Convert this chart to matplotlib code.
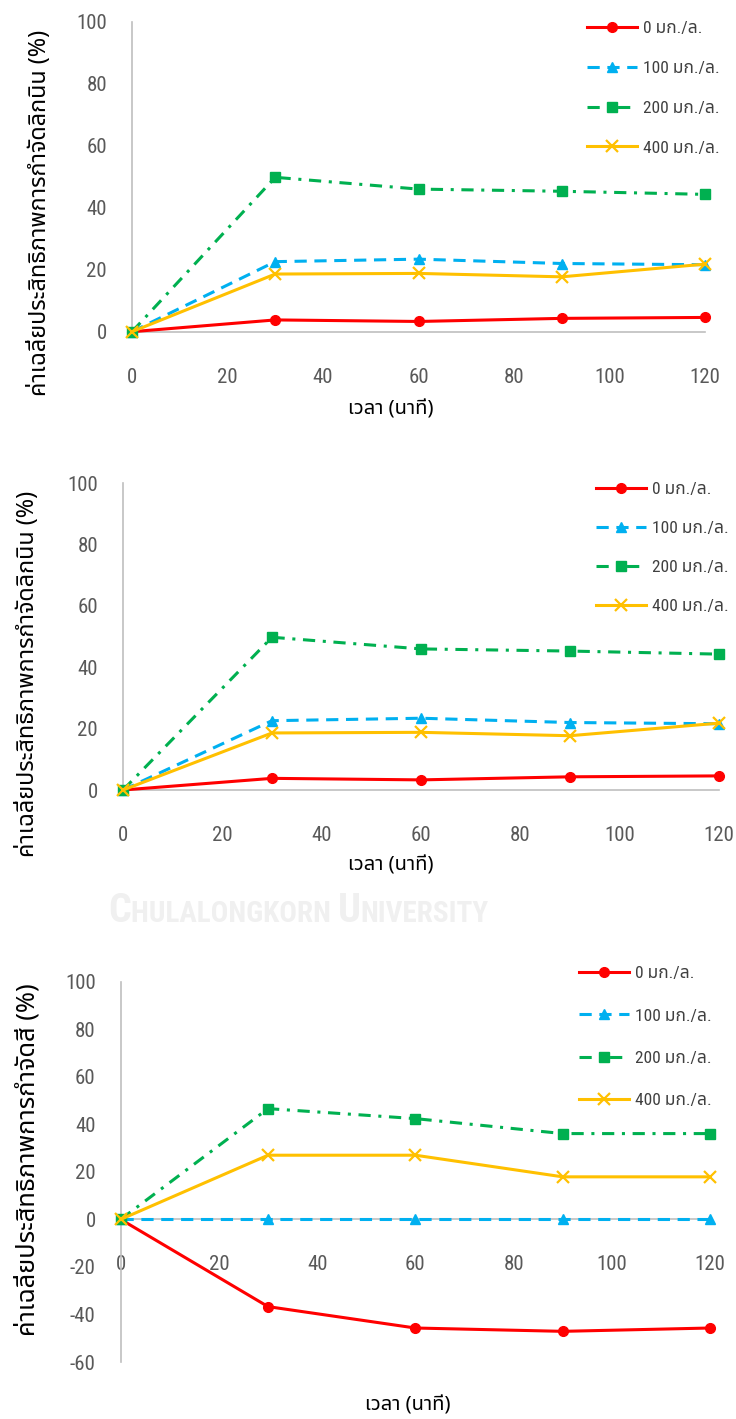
import matplotlib
matplotlib.use("Agg")
import matplotlib.pyplot as plt
from matplotlib import font_manager
from matplotlib.ft2font import FT2Font
from matplotlib.offsetbox import TextArea, HPacker, AnchoredOffsetbox

plt.rcParams["axes.unicode_minus"] = False

# ---- data -------------------------------------------------------------
time_min = [0, 30, 60, 90, 120]
series_labels = ["0 มก./ล.", "100 มก./ล.", "200 มก./ล.", "400 มก./ล."]

lignin_0 = [0, 3.8, 3.3, 4.3, 4.6]
lignin_100 = [0, 22.6, 23.4, 22.0, 21.6]
lignin_200 = [0, 49.8, 46.0, 45.3, 44.3]
lignin_400 = [0, 18.6, 18.8, 17.7, 21.8]

colour_0 = [0, -36.7, -45.7, -47.1, -45.7]
colour_100 = [0, 0, 0, 0, 0]
colour_200 = [0, 46.6, 42.4, 36.1, 36.1]
colour_400 = [0, 27.0, 27.0, 17.9, 17.9]

x_ticks = [0, 20, 40, 60, 80, 100, 120]
y_ticks_lignin = [0, 20, 40, 60, 80, 100]
y_ticks_colour = [-60, -40, -20, 0, 20, 40, 60, 80, 100]

x_title = "เวลา (นาที)"
y_title_lignin = "ค่าเฉลี่ยประสิทธิภาพการกำจัดลิกนิน (%)"
y_title_colour = "ค่าเฉลี่ยประสิทธิภาพการกำจัดสี (%)"
watermark_parts = [("C", True), ("HULALONGKORN ", False), ("U", True), ("NIVERSITY", False)]


# ---- fonts ------------------------------------------------------------
def families_with(char):
    found = []
    for f in font_manager.fontManager.ttflist:
        if "CJK" in f.name:
            continue
        try:
            cmap = FT2Font(f.fname).get_charmap()
        except Exception:
            continue
        if ord(char) in cmap and f.name not in found:
            found.append(f.name)
    return found


thai_fams = families_with("ก")
thai_font = None
for pref in ["Noto Sans Thai", "Noto Sans Thai UI", "Loma", "Garuda", "Sarabun",
             "Tlwg Typo", "Norasi", "Kinnari"]:
    if pref in thai_fams:
        thai_font = pref
        break
if thai_font is None:
    thai_font = thai_fams[0] if thai_fams else "DejaVu Sans"

# a condensed face for the numbers, as narrow as the installed fonts allow
narrow_family, narrow_stretch = "Liberation Sans", "normal"
_cands = []
for f in font_manager.fontManager.ttflist:
    st = f.stretch
    is_narrow = ("Narrow" in f.name or "Condensed" in f.name or
                 str(st) in ("condensed", "semi-condensed", "extra-condensed", "ultra-condensed"))
    if is_narrow and f.style == "normal":
        _cands.append(f)
for pref in ["Liberation Sans Narrow", "Roboto Condensed", "Open Sans Condensed",
             "Noto Sans", "Open Sans", "Roboto", "DejaVu Sans"]:
    hit = [f for f in _cands if f.name == pref]
    if hit:
        narrow_family, narrow_stretch = hit[0].name, hit[0].stretch
        break

num_fam = [narrow_family, thai_font, "DejaVu Sans"]
txt_fam = [thai_font, "DejaVu Sans"]

W, H = 736, 1419
fig = plt.figure(figsize=(W / 100, H / 100), dpi=100)
fig.patch.set_facecolor("white")

# faint small-caps watermark between the second and third charts
wm_boxes = []
for part, big in watermark_parts:
    wm_boxes.append(TextArea(part, textprops=dict(
        size=29 if big else 21, weight="bold", family=[narrow_family, "DejaVu Sans"],
        stretch=narrow_stretch, color="#f0f0f0")))
wm = AnchoredOffsetbox(loc="lower left", child=HPacker(children=wm_boxes, align="baseline",
                                                        pad=0, sep=0),
                       bbox_to_anchor=(108 / W, 1 - 930 / H), bbox_transform=fig.transFigure,
                       frameon=False, pad=0, borderpad=0)
wm.set_zorder(0)
fig.add_artist(wm)

styles = [
    dict(color="#ff0000", ls="-", marker="o", ms=7, mew=1),
    dict(color="#00b0f0", ls=(0, (4, 2.5)), marker="^", ms=7.5, mew=1),
    dict(color="#00b050", ls=(0, (4, 2.5, 1, 2.5)), marker="s", ms=6.5, mew=1),
    dict(color="#ffc000", ls="-", marker="x", ms=8, mew=1.6),
]


def px_axes(x0, x1, ytop, ybot):
    return fig.add_axes([x0 / W, 1 - ybot / H, (x1 - x0) / W, (ybot - ytop) / H])


def draw_panel(ax, series, yticks, ylim, ytitle, ytitle_xy, ytitle_size, xtitle_xy,
               legend_xy, legend_gap, xaxis_at_zero=False):
    for vals, lab, st in zip(series, series_labels, styles):
        ax.plot(time_min, vals, label=lab, lw=2.2, color=st["color"], ls=st["ls"],
                marker=st["marker"], markersize=st["ms"], markeredgewidth=st["mew"],
                clip_on=False, zorder=3)
    ax.set_xlim(0, 120)
    ax.set_ylim(*ylim)
    ax.set_xticks(x_ticks)
    ax.set_yticks(yticks)
    for s in ["top", "right"]:
        ax.spines[s].set_visible(False)
    for s in ["left", "bottom"]:
        ax.spines[s].set_color("#bfbfbf")
        ax.spines[s].set_linewidth(1.2)
    if xaxis_at_zero:
        ax.spines["bottom"].set_position(("data", 0))
    ax.tick_params(axis="both", length=0, labelsize=15, labelcolor="#595959")
    ax.tick_params(axis="x", pad=26)
    ax.tick_params(axis="y", pad=18)
    for t in ax.get_xticklabels() + ax.get_yticklabels():
        t.set_family(num_fam)
        t.set_stretch(narrow_stretch)
    ax.set_facecolor("none")
    ax.legend(loc="upper left", bbox_to_anchor=(legend_xy[0] / W, 1 - legend_xy[1] / H),
              bbox_transform=fig.transFigure, frameon=False, borderpad=0,
              borderaxespad=0, handlelength=2.9, handletextpad=0.3,
              labelspacing=legend_gap,
              prop=dict(family=num_fam, size=12.5, stretch=narrow_stretch),
              labelcolor="#404040")
    fig.text(ytitle_xy[0] / W, 1 - ytitle_xy[1] / H, ytitle, rotation=90,
             ha="center", va="center", fontsize=ytitle_size, family=txt_fam,
             color="#000000")
    fig.text(xtitle_xy[0] / W, 1 - xtitle_xy[1] / H, x_title, ha="center",
             va="center", fontsize=14.5, family=txt_fam, fontweight="bold",
             color="#000000")


lignin_series = [lignin_0, lignin_100, lignin_200, lignin_400]
colour_series = [colour_0, colour_100, colour_200, colour_400]

ax1 = px_axes(132, 705, 21.7, 331.7)
draw_panel(ax1, lignin_series, y_ticks_lignin, (0, 100), y_title_lignin,
           (40, 213), 16.8, (391, 410), (587, 21), 1.42)

ax2 = px_axes(123, 719, 483.3, 790)
draw_panel(ax2, lignin_series, y_ticks_lignin, (0, 100), y_title_lignin,
           (28, 674), 16.8, (391, 865), (596, 482), 1.38)

ax3 = px_axes(120.7, 710, 981.7, 1362)
draw_panel(ax3, colour_series, y_ticks_colour, (-60, 100), y_title_colour,
           (28, 1160), 18.3, (408, 1405), (579, 966), 1.57, xaxis_at_zero=True)

fig.savefig("out.png", dpi=100, facecolor="white")
